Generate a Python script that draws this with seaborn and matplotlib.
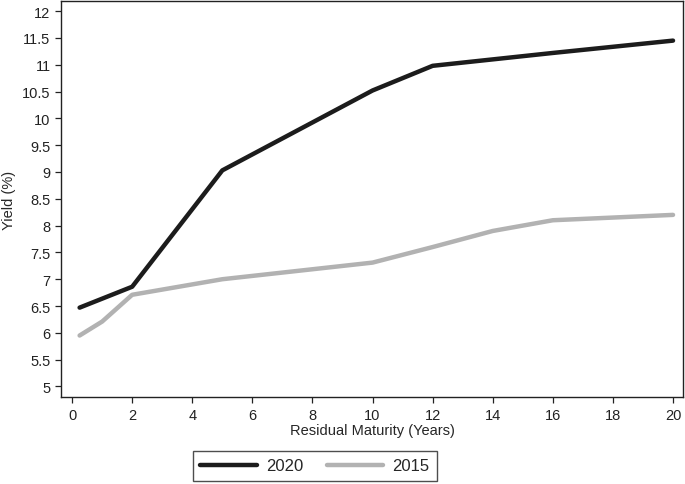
import matplotlib
matplotlib.use("Agg")
import matplotlib.pyplot as plt
import seaborn as sns
import pandas as pd
import numpy as np

maturity_2020 = [0.25, 2, 5, 10, 12, 14, 16, 20]
yield_2020 = [6.47, 6.86, 9.03, 10.52, 10.98, 11.10, 11.22, 11.45]
maturity_2015 = [0.25, 1, 2, 5, 10, 12, 14, 16, 20]
yield_2015 = [5.95, 6.21, 6.71, 7.00, 7.31, 7.60, 7.90, 8.10, 8.20]
series = ["2020", "2015"]
x_ticks = list(range(0, 21, 2))
y_ticks = [5, 5.5, 6, 6.5, 7, 7.5, 8, 8.5, 9, 9.5, 10, 10.5, 11, 11.5, 12]

df = pd.concat([
    pd.DataFrame({"Maturity": maturity_2020, "Yield": yield_2020, "Year": series[0]}),
    pd.DataFrame({"Maturity": maturity_2015, "Yield": yield_2015, "Year": series[1]}),
])

sns.set_style("ticks")
plt.rcParams["font.family"] = ["Liberation Sans", "DejaVu Sans"]

fig = plt.figure(figsize=(6.85, 4.85), dpi=100)
ax = fig.add_axes([0.089, 0.179, 0.908, 0.817])
sns.lineplot(data=df, x="Maturity", y="Yield", hue="Year",
             palette={"2020": "#1c1c1c", "2015": "#b2b2b2"},
             linewidth=3.2, ax=ax, legend=False, estimator=None, sort=False)

ax.set_xlim(-0.37, 20.33)
ax.set_ylim(4.8, 12.19)
ax.set_xticks(x_ticks)
ax.set_yticks(y_ticks)
ax.set_yticklabels([f"{v:g}" for v in y_ticks])
ax.tick_params(axis="both", labelsize=10.5, length=4, width=0.9, colors="#222222", direction="out")
for s in ax.spines.values():
    s.set_visible(True)
    s.set_linewidth(1.0)
    s.set_color("#222222")
ax.set_xlabel("Residual Maturity (Years)", fontsize=10.5, labelpad=1)
ax.set_ylabel("Yield (%)", fontsize=10.5, labelpad=4)

from matplotlib.lines import Line2D
handles = [Line2D([0], [0], color="#1c1c1c", lw=3.2),
           Line2D([0], [0], color="#b2b2b2", lw=3.2)]
leg = fig.legend(handles, series, loc="center", bbox_to_anchor=(315 / 685, 1 - 467 / 485),
                 ncol=2, fontsize=12, frameon=True, fancybox=False, edgecolor="#222222",
                 handlelength=3.4, columnspacing=1.4, borderpad=0.45, handletextpad=0.55)
leg.get_frame().set_linewidth(1.0)

fig.savefig("out.png", dpi=100)
